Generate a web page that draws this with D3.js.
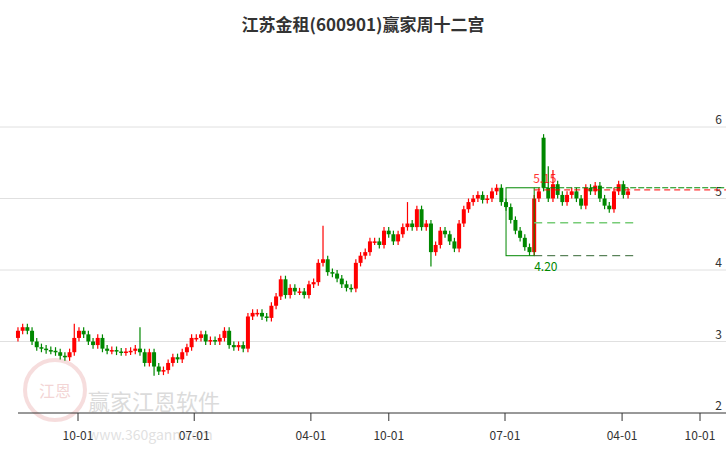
<!DOCTYPE html>
<html><head><meta charset="utf-8">
<script src="https://cdn.jsdelivr.net/npm/d3@7/dist/d3.min.js"></script>
<style>body{margin:0;background:#fff}svg{font-family:"Noto Sans CJK SC","Noto Sans",sans-serif}</style>
</head><body><svg id="c" width="726" height="450"></svg>
<script>
const title = "江苏金租(600901)赢家周十二宫";
const closes = [3.15,3.2,3.15,3.0,2.92,2.9,2.88,2.87,2.85,2.8,2.78,2.85,3.05,3.15,3.1,3.0,2.95,3.05,2.9,2.87,2.88,2.86,2.85,2.86,2.87,2.9,2.85,2.7,2.85,2.65,2.58,2.6,2.7,2.78,2.75,2.85,2.92,3.05,3.05,3.1,3.0,3.02,3.0,3.05,3.15,2.95,2.92,2.95,2.9,3.35,3.4,3.4,3.35,3.33,3.5,3.63,3.87,3.65,3.75,3.7,3.7,3.65,3.8,3.83,4.1,4.15,3.97,3.95,3.88,3.8,3.75,3.74,4.1,4.2,4.25,4.4,4.4,4.35,4.55,4.5,4.4,4.5,4.6,4.65,4.6,4.85,4.6,4.65,4.25,4.35,4.55,4.5,4.4,4.3,4.65,4.85,4.95,5.0,5.05,4.98,5.0,5.1,5.15,4.95,4.88,4.7,4.55,4.45,4.32,4.25,5.0,5.1,5.15,5.0,5.2,5.05,4.95,5.05,5.1,5.0,4.9,5.15,5.1,5.18,5.0,4.9,4.85,5.1,5.2,5.05,5.1];
const firstOpen = 3.05;
const openOverrides = {112:5.85};
const highSpikes = {12:3.25,26:3.2,65:4.62,83:4.95,112:5.9,113:5.45,114:5.4};
const lowSpikes = {29:2.52,88:4.05,109:4.2};
const tickDates = ["2020-10-01","2021-07-01","2022-04-01","2022-10-01","2023-07-01","2024-04-01","2024-10-01"];
const tickLabels = ["10-01","07-01","04-01","10-01","07-01","04-01","10-01"];
const yTicks = [2,3,4,5,6];
const startDate = new Date("2020-05-13"), endDate = new Date("2024-04-15");
const boxHigh = 5.15, boxLow = 4.20, midLevel = 4.66, redLevel = 5.12;

const svg = d3.select("#c");
const x = d3.scaleTime().domain([new Date("2020-10-01"), new Date("2024-10-01")]).range([78,700]);
const y = d3.scaleLinear().domain([2,6]).range([413,127]);
const n = closes.length;
const dt = (endDate - startDate)/(n-1);
const data = closes.map((c,i)=>{
  const o = openOverrides[i] ?? (i===0?firstOpen:closes[i-1]);
  return {d:new Date(+startDate+i*dt), o, c,
    h: highSpikes[i] ?? Math.max(o,c)+0.05,
    l: lowSpikes[i] ?? Math.min(o,c)-0.05};
});

// watermark
const wm = svg.append("g").attr("opacity",0.35);
wm.append("circle").attr("cx",55).attr("cy",390).attr("r",30).attr("fill","none").attr("stroke","#e8a0a0").attr("stroke-width",4);
wm.append("text").attr("x",55).attr("y",397).attr("text-anchor","middle").attr("font-size",16).attr("fill","#d88").text("江恩");
wm.append("text").attr("x",88).attr("y",410).attr("font-size",22).attr("fill","#999").text("赢家江恩软件");
wm.append("text").attr("x",88).attr("y",440).attr("font-size",14).attr("fill","#aaa").text("www.360gann.com");

// grid
svg.append("g").selectAll("line").data(yTicks.slice(1)).join("line")
  .attr("x1",0).attr("x2",726).attr("y1",d=>y(d)).attr("y2",d=>y(d)).attr("stroke","#e0e0e0");
svg.append("g").selectAll("text").data(yTicks).join("text")
  .attr("x",722).attr("y",d=>y(d)-3).attr("text-anchor","end").attr("font-size",12).attr("fill","#333").text(d=>d);

// x axis
const xa = svg.append("g").attr("transform","translate(0,413)");
xa.append("line").attr("x1",18).attr("x2",726).attr("stroke","#333");
const td = tickDates.map(s=>new Date(s));
xa.selectAll(".t").data(td).join("line").attr("x1",d=>x(d)).attr("x2",d=>x(d)).attr("y1",0).attr("y2",8).attr("stroke","#333");
xa.selectAll(".l").data(td).join("text").attr("x",d=>x(d)).attr("y",27).attr("text-anchor","middle").attr("font-size",12).attr("fill","#333").text((d,i)=>tickLabels[i]);

// candles
const w = 4;
const cg = svg.append("g").selectAll("g").data(data).join("g");
const col = d=> d.c>=d.o ? "#f00" : "#080";
cg.append("line").attr("x1",d=>x(d.d)).attr("x2",d=>x(d.d)).attr("y1",d=>y(d.h)).attr("y2",d=>y(d.l)).attr("stroke",col).attr("stroke-width",1.2);
cg.append("rect").attr("x",d=>x(d.d)-w/2).attr("width",w)
  .attr("y",d=>y(Math.max(d.o,d.c))).attr("height",d=>Math.max(1.5,Math.abs(y(d.o)-y(d.c)))).attr("fill",col);

// overlay box & levels
const bx1 = x(data[104].d), bx2 = x(data[110].d), end1 = 638;
svg.append("rect").attr("x",bx1).attr("y",y(boxHigh)).attr("width",bx2-bx1).attr("height",y(boxLow)-y(boxHigh)).attr("fill","none").attr("stroke","#080");
svg.append("line").attr("x1",bx2).attr("x2",726).attr("y1",y(boxHigh)).attr("y2",y(boxHigh)).attr("stroke","#080").attr("stroke-dasharray","6,2");
svg.append("line").attr("x1",bx2).attr("x2",726).attr("y1",y(redLevel)).attr("y2",y(redLevel)).attr("stroke","#f00").attr("stroke-dasharray","6,4");
svg.append("line").attr("x1",bx2).attr("x2",end1).attr("y1",y(midLevel)).attr("y2",y(midLevel)).attr("stroke","#7c7").attr("stroke-width",1.5).attr("stroke-dasharray","8,5");
svg.append("line").attr("x1",bx2).attr("x2",end1).attr("y1",y(boxLow)).attr("y2",y(boxLow)).attr("stroke","#363").attr("stroke-dasharray","8,5");
svg.append("text").attr("x",bx2-1).attr("y",y(boxHigh)-5).attr("font-size",12).attr("fill","#f00").attr("opacity",0.8).text(boxHigh.toFixed(2));
svg.append("text").attr("x",bx2).attr("y",y(boxLow)+15).attr("font-size",12).attr("fill","#080").text(boxLow.toFixed(2));

svg.append("text").attr("x",363).attr("y",31).attr("text-anchor","middle").attr("font-size",17).attr("font-weight","bold").attr("fill","#333").text(title);
</script></body></html>
